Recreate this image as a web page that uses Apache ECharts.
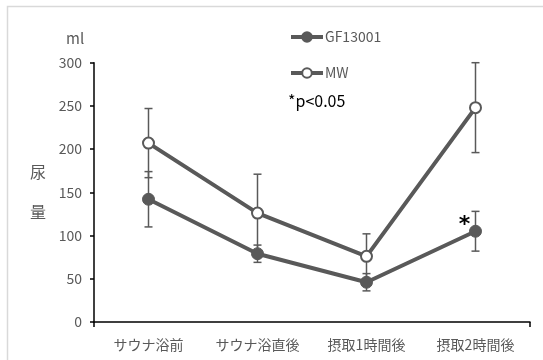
<!DOCTYPE html>
<html>
<head>
<meta charset="utf-8">
<script src="https://cdn.jsdelivr.net/npm/echarts@6/dist/echarts.min.js"></script>
<style>html,body{margin:0;padding:0;background:#fff;}#c{width:543px;height:360px;}</style>
</head>
<body>
<div id="c"></div>
<script>
const categories = ['サウナ浴前', 'サウナ浴直後', '摂取1時間後', '摂取2時間後'];
const gfMean = [142, 79, 46, 105];
const gfSD = [32, 10, 10, 23];
const mwMean = [207, 126, 76, 248];
const mwSD = [40, 45, 26, 52];
const yMin = 0, yMax = 300, yStep = 50;
const FONT = '"Noto Sans CJK JP", sans-serif';
const GRAY = '#595959';

function errData(mean, sd) {
  return mean.map((m, i) => [i, m - sd[i], m + sd[i]]);
}
function errRender(params, api) {
  const x = api.value(0);
  const lo = api.coord([x, api.value(1)]);
  const hi = api.coord([x, api.value(2)]);
  const w = 4;
  const st = { stroke: GRAY, lineWidth: 1.5 };
  return {
    type: 'group',
    children: [
      { type: 'line', shape: { x1: lo[0], y1: lo[1], x2: hi[0], y2: hi[1] }, style: st },
      { type: 'line', shape: { x1: lo[0] - w, y1: lo[1], x2: lo[0] + w, y2: lo[1] }, style: st },
      { type: 'line', shape: { x1: hi[0] - w, y1: hi[1], x2: hi[0] + w, y2: hi[1] }, style: st }
    ]
  };
}

const chart = echarts.init(document.getElementById('c'));
chart.setOption({
  animation: false,
  textStyle: { fontFamily: FONT },
  grid: { left: 94, right: 13, top: 62.7, bottom: 38 },
  legend: {
    orient: 'vertical',
    left: 284,
    top: 25,
    itemWidth: 32,
    itemHeight: 12,
    itemGap: 22,
    data: ['GF13001', 'MW'],
    lineStyle: { width: 4 },
    textStyle: { color: GRAY, fontSize: 14, fontFamily: FONT, padding: [0, 0, 0, -3] }
  },
  xAxis: [{
    type: 'category',
    data: categories,
    boundaryGap: true,
    axisLine: { lineStyle: { color: '#000', width: 1.5 } },
    axisTick: { alignWithLabel: true, length: 5, lineStyle: { color: '#000', width: 1.5 } },
    axisLabel: { color: GRAY, fontSize: 14, margin: 16, interval: 0, hideOverlap: false, fontFamily: FONT }
  }, {
    type: 'value',
    position: 'bottom',
    min: 0, max: 1, interval: 1,
    axisLine: { show: false },
    axisTick: { show: true, length: 5, lineStyle: { color: '#000', width: 1.5 } },
    axisLabel: { show: false },
    splitLine: { show: false }
  }],
  yAxis: {
    type: 'value',
    min: yMin, max: yMax, interval: yStep,
    axisLine: { show: true, lineStyle: { color: '#000', width: 1.5 } },
    axisTick: { show: true, length: 4, lineStyle: { color: '#000', width: 1.5 } },
    splitLine: { show: false },
    axisLabel: { color: GRAY, fontSize: 14, margin: 12, fontFamily: FONT }
  },
  graphic: [
    { type: 'rect', left: 5, top: 4, shape: { width: 545, height: 370 }, style: { fill: 'none', stroke: '#d9d9d9', lineWidth: 1.5 }, silent: true },
    { type: 'text', left: 66, top: 31, style: { text: 'ml', fill: GRAY, font: '15px ' + FONT } },
    { type: 'text', left: 30, top: 164, style: { text: '尿', fill: GRAY, font: '16px ' + FONT } },
    { type: 'text', left: 30, top: 204, style: { text: '量', fill: GRAY, font: '16px ' + FONT } },
    { type: 'text', left: 288, top: 93, style: { text: '*p<0.05', fill: '#000', font: '16px ' + FONT } }
  ],
  series: [
    {
      name: 'MW-err', type: 'custom', z: 1, renderItem: errRender,
      data: errData(mwMean, mwSD), encode: { x: 0, y: [1, 2] }
    },
    {
      name: 'GF-err', type: 'custom', z: 1, renderItem: errRender,
      data: errData(gfMean, gfSD), encode: { x: 0, y: [1, 2] }
    },
    {
      name: 'GF13001', type: 'line', z: 3, data: gfMean,
      symbol: 'circle', symbolSize: 12,
      lineStyle: { color: GRAY, width: 4 },
      itemStyle: { color: GRAY, borderColor: GRAY, borderWidth: 1 },
      markPoint: {
        symbol: 'circle', symbolSize: 0,
        data: [{ coord: [3, gfMean[3]] }],
        label: { show: true, formatter: '*', color: '#000', fontSize: 22, fontWeight: 'bold', offset: [-11, -6], fontFamily: 'DejaVu Sans' }
      }
    },
    {
      name: 'MW', type: 'line', z: 2, data: mwMean,
      symbol: 'circle', symbolSize: 11,
      lineStyle: { color: GRAY, width: 4 },
      itemStyle: { color: '#fff', borderColor: GRAY, borderWidth: 2 }
    }
  ]
});
</script>
</body>
</html>
